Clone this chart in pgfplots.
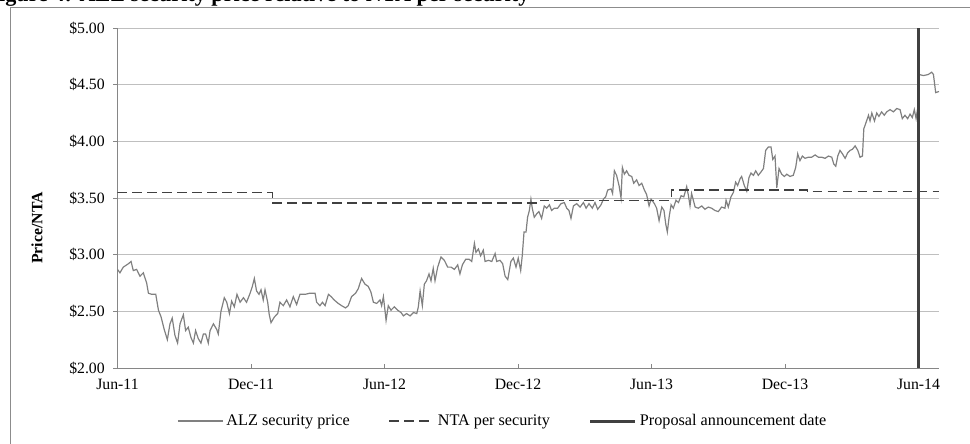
\documentclass[border=0pt]{standalone}
\usepackage{fontspec}
\setmainfont{Liberation Serif}
\usepackage{pgfplots}
\pgfplotsset{compat=1.18}

\definecolor{pricegray}{HTML}{808080}
\definecolor{ntagray}{HTML}{404040}
\definecolor{gridgray}{HTML}{BFBFBF}
\definecolor{axisgray}{HTML}{868686}
\definecolor{framegray}{HTML}{8C8C8C}

\begin{document}
\begin{tikzpicture}
\useasboundingbox (0,0) rectangle (646.67pt,295.33pt);
\clip (0,0) rectangle (646.67pt,295.33pt);

% title, cut at the top as in the source
\node[anchor=base west, inner sep=0pt, font=\bfseries\fontsize{14.8}{17}\selectfont]
  at (-9.8pt,294.2pt) {Figure 4: ALZ security price relative to NTA per security};
\draw[framegray, line width=0.6pt] (6.67pt,-5pt) -- (6.67pt,290.67pt) -- (660pt,290.67pt);
\node[rotate=90, font=\bfseries\fontsize{10.5}{12}\selectfont] at (24.67pt,143.33pt) {Price/NTA};

\begin{axis}[
    at={(78.33pt,50pt)}, anchor=south west,
    scale only axis, width=547.67pt, height=226.67pt,
    xmin=0, xmax=36.92, ymin=2, ymax=5,
    axis lines*=left,
    axis line style={axisgray, line width=0.6pt, -},
    xtick={0,6,...,36},
    xticklabels={Jun-11,Dec-11,Jun-12,Dec-12,Jun-13,Dec-13,Jun-14},
    ytick={2,2.5,3,3.5,4,4.5,5},
    yticklabel={\$\pgfmathprintnumber[fixed,fixed zerofill,precision=2]{\tick}},
    /pgf/number format/assume math mode=true,
    ymajorgrids,
    major grid style={gridgray, line width=0.6pt},
    tick align=inside, major tick length=2.7pt,
    tick style={axisgray, line width=0.6pt},
    ytick style={xshift=-2.7pt},
    tick label style={font=\fontsize{10.5}{12}\selectfont},
    xticklabel style={yshift=-4pt},
    yticklabel style={xshift=-5pt},
    legend style={at={(0.0724,-0.156)}, anchor=west, draw=none, fill=none,
        inner sep=0pt, font=\fontsize{10.8}{12}\selectfont,
        /tikz/every even column/.append style={column sep=24pt}},
    legend columns=3,
    legend cell align=left,
    legend image code/.code={\draw[#1] (0pt,0pt) -- (30pt,0pt);},
]
% ALZ security price (months after Jun-11, $)
\addplot[pricegray, line width=0.8pt] coordinates {
(0.00,2.87) (0.11,2.84) (0.26,2.89) (0.49,2.92) (0.61,2.94) (0.71,2.86) (0.86,2.87)
(1.01,2.81) (1.16,2.84) (1.31,2.75) (1.39,2.66) (1.54,2.65) (1.72,2.65) (1.84,2.51)
(1.96,2.45) (2.10,2.34) (2.24,2.25) (2.36,2.39) (2.46,2.44) (2.58,2.29) (2.70,2.22)
(2.81,2.39) (2.96,2.47) (3.06,2.33) (3.18,2.36) (3.30,2.27) (3.41,2.22) (3.51,2.33)
(3.63,2.26) (3.75,2.22) (3.86,2.30) (3.96,2.30) (4.08,2.22) (4.16,2.33) (4.31,2.39)
(4.46,2.34) (4.53,2.30) (4.65,2.50) (4.80,2.62) (4.91,2.58) (5.03,2.48) (5.13,2.59)
(5.25,2.54) (5.37,2.65) (5.51,2.58) (5.66,2.62) (5.80,2.58) (5.96,2.66) (6.06,2.72)
(6.15,2.79) (6.25,2.68) (6.36,2.65) (6.45,2.69) (6.55,2.60) (6.63,2.69) (6.75,2.58)
(6.82,2.47) (6.90,2.40) (7.05,2.45) (7.20,2.48) (7.30,2.58) (7.45,2.55) (7.60,2.60)
(7.75,2.54) (7.90,2.63) (8.05,2.56) (8.20,2.65) (8.43,2.65) (8.65,2.66) (8.88,2.66)
(8.95,2.58) (9.10,2.55) (9.21,2.58) (9.33,2.55) (9.48,2.65) (9.60,2.63) (9.74,2.60)
(9.92,2.57) (10.07,2.55) (10.25,2.53) (10.37,2.55) (10.52,2.63) (10.70,2.66) (10.82,2.70)
(10.97,2.79) (11.12,2.74) (11.27,2.72) (11.39,2.67) (11.50,2.58) (11.65,2.57) (11.80,2.60)
(11.87,2.55) (11.95,2.63) (12.02,2.51) (12.07,2.42) (12.17,2.55) (12.29,2.51) (12.44,2.54)
(12.59,2.51) (12.74,2.49) (12.85,2.46) (12.99,2.48) (13.15,2.46) (13.30,2.49) (13.45,2.48)
(13.52,2.54) (13.60,2.68) (13.70,2.55) (13.79,2.74) (13.89,2.77) (14.00,2.83) (14.09,2.77)
(14.19,2.88) (14.27,2.77) (14.39,2.89) (14.54,2.98) (14.69,2.95) (14.84,2.89) (14.99,2.89)
(15.14,2.87) (15.29,2.91) (15.39,2.83) (15.50,2.91) (15.65,2.96) (15.80,2.96) (15.92,2.94)
(16.04,3.10) (16.11,3.02) (16.22,3.05) (16.32,2.99) (16.44,3.04) (16.52,2.94) (16.67,2.95)
(16.82,2.94) (16.97,3.01) (17.04,2.94) (17.19,2.95) (17.31,2.92) (17.42,2.81) (17.54,2.78)
(17.68,2.94) (17.79,2.97) (17.91,2.89) (18.01,2.97) (18.12,2.86) (18.19,2.99) (18.27,3.20)
(18.36,3.20) (18.43,3.33) (18.51,3.39) (18.58,3.49) (18.64,3.41) (18.73,3.33) (18.84,3.36)
(18.94,3.38) (19.06,3.32) (19.18,3.43) (19.29,3.41) (19.41,3.44) (19.51,3.39) (19.63,3.41)
(19.78,3.41) (19.93,3.45) (20.08,3.46) (20.19,3.41) (20.29,3.39) (20.38,3.32) (20.49,3.43)
(20.64,3.45) (20.79,3.42) (20.94,3.46) (21.06,3.41) (21.19,3.45) (21.34,3.41) (21.46,3.46)
(21.58,3.40) (21.73,3.44) (21.84,3.49) (21.94,3.51) (22.03,3.57) (22.18,3.58) (22.25,3.54)
(22.33,3.74) (22.43,3.70) (22.54,3.61) (22.63,3.50) (22.69,3.77) (22.78,3.71) (22.88,3.74)
(22.99,3.70) (23.11,3.69) (23.20,3.63) (23.33,3.66) (23.44,3.61) (23.56,3.63) (23.68,3.57)
(23.78,3.53) (23.89,3.43) (23.98,3.49) (24.13,3.45) (24.23,3.41) (24.34,3.30) (24.46,3.42)
(24.56,3.39) (24.64,3.27) (24.71,3.20) (24.79,3.33) (24.88,3.44) (24.98,3.41) (25.10,3.48)
(25.21,3.46) (25.33,3.52) (25.45,3.51) (25.58,3.60) (25.66,3.52) (25.73,3.43) (25.80,3.54)
(25.96,3.42) (26.10,3.41) (26.26,3.43) (26.40,3.40) (26.55,3.42) (26.70,3.41) (26.85,3.39)
(27.00,3.38) (27.15,3.42) (27.30,3.41) (27.35,3.48) (27.45,3.42) (27.57,3.51) (27.68,3.55)
(27.78,3.64) (27.87,3.61) (27.98,3.67) (28.05,3.69) (28.17,3.61) (28.28,3.56) (28.38,3.68)
(28.47,3.72) (28.58,3.70) (28.68,3.74) (28.80,3.70) (28.92,3.73) (29.03,3.76) (29.13,3.92)
(29.25,3.95) (29.37,3.95) (29.45,3.84) (29.55,3.87) (29.63,3.59) (29.73,3.76) (29.85,3.71)
(29.97,3.69) (30.08,3.71) (30.22,3.69) (30.37,3.70) (30.48,3.77) (30.57,3.89) (30.67,3.83)
(30.78,3.87) (30.90,3.85) (31.05,3.86) (31.20,3.86) (31.35,3.88) (31.50,3.86) (31.65,3.86)
(31.80,3.85) (31.95,3.87) (32.10,3.86) (32.19,3.80) (32.28,3.78) (32.37,3.87) (32.47,3.92)
(32.58,3.89) (32.70,3.85) (32.82,3.90) (32.92,3.92) (33.03,3.93) (33.15,3.96) (33.27,3.92)
(33.37,3.86) (33.48,3.87) (33.54,4.11) (33.63,4.16) (33.75,4.23) (33.82,4.18) (33.90,4.25)
(34.02,4.18) (34.12,4.25) (34.22,4.22) (34.34,4.26) (34.46,4.23) (34.57,4.26) (34.72,4.28)
(34.87,4.26) (35.02,4.29) (35.17,4.28) (35.27,4.20) (35.39,4.23) (35.51,4.20) (35.62,4.24)
(35.72,4.21) (35.81,4.28) (35.89,4.20) (35.96,4.29) (36.02,4.59) (36.22,4.58) (36.44,4.59)
(36.59,4.61) (36.67,4.59) (36.77,4.43) (36.92,4.44)
};
\addlegendentry{ALZ security price}
% NTA per security
\addplot[ntagray, line width=0.8pt, dash pattern=on 6.5pt off 3.5pt] coordinates {
(0,3.545) (6.95,3.545) (6.95,3.455) (19.0,3.455) (19.0,3.48) (24.88,3.48)
(24.88,3.57) (31.0,3.57) (31.0,3.556) (36.92,3.556)
};
\addlegendentry{NTA per security}
% proposal announcement
\addplot[ntagray, line width=2pt] coordinates {(36.02,2) (36.02,5)};
\addlegendentry{Proposal announcement date}
\end{axis}
\end{tikzpicture}
\end{document}
